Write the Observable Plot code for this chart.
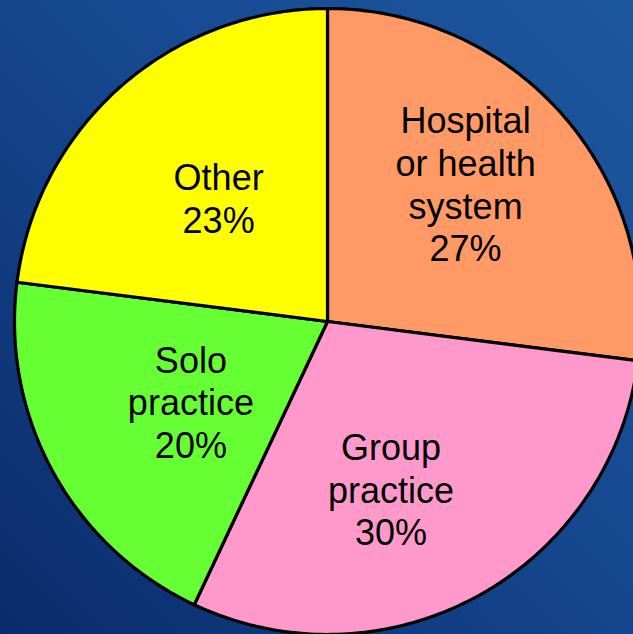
<!DOCTYPE html>
<html>
<head>
<meta charset="utf-8">
<script src="https://cdn.jsdelivr.net/npm/d3@7"></script>
<script src="https://cdn.jsdelivr.net/npm/@observablehq/plot@0.6"></script>
<style>
  html, body { margin: 0; padding: 0; }
  body {
    width: 633px; height: 634px; overflow: hidden;
    background: linear-gradient(to bottom left, #1d579e 0%, #164890 45%, #0a2b6b 100%);
  }
  #chart svg { display: block; background: transparent; }
</style>
</head>
<body>
<div id="chart"></div>
<script>
// ---- data ----
const categories = ["Hospital or health system", "Group practice", "Solo practice", "Other"];
const labelLines = [["Hospital", "or health", "system"], ["Group", "practice"], ["Solo", "practice"], ["Other"]];
const shares = [27, 30, 20, 23];
const sliceColors = ["#ff9966", "#ff99cc", "#66ff33", "#ffff00"];

// ---- layout (not data) ----
const W = 633, H = 634;
const CX = 327, CY = 321, R = 313;           // pie centre and radius in pixels
const labelPlace = [                        // [angle offset (deg), radius fraction]
  [-3.6, 0.624], [8.0, 0.572], [-1.6, 0.506], [0.0, 0.526]
];

const pie = d3.pie().sort(null).value(d => d.value);
const arcs = pie(categories.map((c, i) => ({name: c, value: shares[i], color: sliceColors[i], i})));

// polygons in unit space (y up), angle clockwise from 12 o'clock
const pts = [];
for (const a of arcs) {
  const n = Math.max(8, Math.ceil((a.endAngle - a.startAngle) / (Math.PI / 180)));
  pts.push({name: a.data.name, color: a.data.color, x: 0, y: 0});
  for (let k = 0; k <= n; k++) {
    const t = a.startAngle + (a.endAngle - a.startAngle) * k / n;
    pts.push({name: a.data.name, color: a.data.color, x: Math.sin(t), y: Math.cos(t)});
  }
}

const labels = arcs.map((a, i) => {
  const mid = (a.startAngle + a.endAngle) / 2 + labelPlace[i][0] * Math.PI / 180;
  const r = labelPlace[i][1];
  return {
    x: r * Math.sin(mid), y: r * Math.cos(mid),
    text: [...labelLines[i], shares[i] + "%"].join("\n")
  };
});

const chart = Plot.plot({
  width: W, height: H,
  margin: 0,
  x: {domain: [-CX / R, (W - CX) / R], axis: null},
  y: {domain: [-(H - CY) / R, CY / R], axis: null},
  color: {type: "identity"},
  style: {background: "transparent", overflow: "visible"},
  marks: [
    Plot.line(pts, {
      x: "x", y: "y", z: "name", fill: "color",
      stroke: "black", strokeWidth: 3.2, strokeLinejoin: "round",
      curve: "linear-closed"
    }),
    Plot.text(labels, {
      x: "x", y: "y", text: "text",
      fontSize: 36, lineHeight: 1.19, fill: "black",
      fontFamily: "'Liberation Sans', Arial, sans-serif",
      textAnchor: "middle", lineAnchor: "middle"
    })
  ]
});
document.getElementById("chart").append(chart);
</script>
</body>
</html>
